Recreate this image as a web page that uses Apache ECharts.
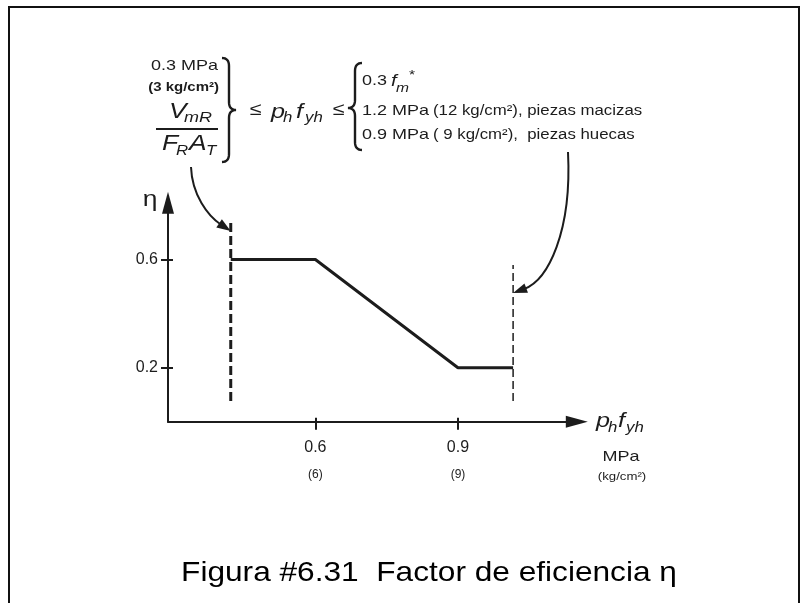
<!DOCTYPE html>
<html>
<head>
<meta charset="utf-8">
<script src="https://cdn.jsdelivr.net/npm/echarts@6/dist/echarts.min.js"></script>
<style>
  html, body { margin: 0; padding: 0; background: #fff; }
  #chart { width: 809px; height: 603px; }
</style>
</head>
<body>
<div id="chart"></div>
<script>
// factor de eficiencia eta vs p_h f_yh (MPa)
const xTicks = [0.6, 0.9];
const xTickKg = ['(6)', '(9)'];
const yTicks = [0.2, 0.6];
const etaX = [0.422, 0.6, 0.9, 1.016];
const etaY = [0.6, 0.6, 0.2, 0.2];
const lowLimitX = [0.422, 0.422];
const lowLimitY = [0.077, 0.742];
const highLimitX = [1.016, 1.016];
const highLimitY = [0.077, 0.58];

const X_MIN = 0.29, X_MAX = 1.15;
const Y_MIN = 0, Y_MAX = 0.81;
const FONT = "'Liberation Sans', Arial, sans-serif";
const INK = '#1c1c1c';

const pairs = (xs, ys) => xs.map((x, i) => [x, ys[i]]);

const chart = echarts.init(document.getElementById('chart'), null, { renderer: 'canvas' });

function tickLabel(v) {
  const i = xTicks.findIndex((t) => Math.abs(t - v) < 1e-6);
  return '{a|' + v + '}\n{b|' + (i >= 0 ? xTickKg[i] : '') + '}';
}

chart.setOption({
  animation: false,
  backgroundColor: '#fff',
  grid: {
    left: 168,
    top: 202.7,
    right: 232.2,
    bottom: 181.2,
    containLabel: false,
    outerBoundsMode: 'none',
  },
  xAxis: [
    {
      type: 'value',
      min: X_MIN,
      max: X_MAX,
      position: 'bottom',
      axisLine: {
        show: true,
        onZero: false,
        symbol: ['none', 'triangle'],
        symbolSize: [12, 22],
        lineStyle: { color: INK, width: 2 },
      },
      axisTick: { show: true, customValues: xTicks, length: 8, lineStyle: { color: INK, width: 2 } },
      axisLabel: {
        customValues: xTicks,
        margin: 16,
        formatter: tickLabel,
        rich: {
          a: { fontFamily: FONT, fontSize: 16, color: INK, lineHeight: 20 },
          b: { fontFamily: FONT, fontSize: 12, color: INK, lineHeight: 34 },
        },
      },
      splitLine: { show: false },
    },
    {
      // ticks poking above the axis line
      type: 'value',
      min: X_MIN,
      max: X_MAX,
      position: 'bottom',
      axisLine: { show: false, onZero: false },
      axisTick: { show: true, inside: true, customValues: xTicks, length: 4, lineStyle: { color: INK, width: 2 } },
      axisLabel: { show: false },
      splitLine: { show: false },
    },
  ],
  yAxis: [
    {
      type: 'value',
      min: Y_MIN,
      max: Y_MAX,
      position: 'left',
      axisLine: {
        show: true,
        onZero: false,
        symbol: ['none', 'triangle'],
        symbolSize: [12, 22],
        lineStyle: { color: INK, width: 2 },
      },
      axisTick: { show: true, customValues: yTicks, length: 7, lineStyle: { color: INK, width: 2 } },
      axisLabel: {
        customValues: yTicks,
        margin: 10,
        fontFamily: FONT,
        fontSize: 16,
        color: INK,
      },
      splitLine: { show: false },
    },
    {
      type: 'value',
      min: Y_MIN,
      max: Y_MAX,
      position: 'left',
      axisLine: { show: false, onZero: false },
      axisTick: { show: true, inside: true, customValues: yTicks, length: 5, lineStyle: { color: INK, width: 2 } },
      axisLabel: { show: false },
      splitLine: { show: false },
    },
  ],
  series: [
    {
      name: 'eta',
      type: 'line',
      data: pairs(etaX, etaY),
      symbol: 'none',
      lineStyle: { color: INK, width: 3 },
      silent: true,
    },
    {
      name: 'limite inferior',
      type: 'line',
      data: pairs(lowLimitX, lowLimitY),
      symbol: 'none',
      lineStyle: { color: INK, width: 3, type: [9, 4] },
      silent: true,
    },
    {
      name: 'limite superior',
      type: 'line',
      data: pairs(highLimitX, highLimitY),
      symbol: 'none',
      lineStyle: { color: INK, width: 1.5, type: [8, 4] },
      silent: true,
    },
  ],
});

/** text piece, stretched horizontally like the scanned figure */
function t(text, x, y, size, opt) {
  opt = opt || {};
  return {
    type: 'text',
    x: x,
    y: y,
    scaleX: opt.scaleX || 1.2,
    silent: true,
    style: {
      text: text,
      x: 0,
      y: 0,
      fontFamily: FONT,
      fontSize: size,
      fontStyle: opt.italic ? 'italic' : 'normal',
      fontWeight: opt.bold ? 'bold' : 'normal',
      fill: opt.color || INK,
      align: opt.align || 'left',
      verticalAlign: 'middle',
    },
  };
}

/** curly brace as a polyline; dir = 1 opens left "}" , -1 opens right "{" */
function brace(x, yTop, yMid, yBot, dir) {
  const arm = 7 * dir; // spine offset from tips
  const cx = x + arm;
  const pts = [];
  const quad = (p0, p1, p2) => {
    for (let i = 0; i <= 8; i++) {
      const s = i / 8;
      pts.push([
        (1 - s) * (1 - s) * p0[0] + 2 * (1 - s) * s * p1[0] + s * s * p2[0],
        (1 - s) * (1 - s) * p0[1] + 2 * (1 - s) * s * p1[1] + s * s * p2[1],
      ]);
    }
  };
  quad([x, yTop], [cx, yTop], [cx, yTop + 8]);
  quad([cx, yMid - 8], [cx, yMid], [cx + arm, yMid]);
  quad([cx + arm, yMid], [cx, yMid], [cx, yMid + 8]);
  quad([cx, yBot - 8], [cx, yBot], [x, yBot]);
  return {
    type: 'polyline',
    silent: true,
    shape: { points: pts },
    style: { fill: null, stroke: INK, lineWidth: 2.4 },
  };
}

function curvedArrow(start, cp1, cp2, tip) {
  const dx = tip[0] - cp2[0], dy = tip[1] - cp2[1];
  const d = Math.sqrt(dx * dx + dy * dy);
  const ux = dx / d, uy = dy / d;
  const len = 14, half = 5;
  const base = [tip[0] - ux * len, tip[1] - uy * len];
  return [
    {
      type: 'bezierCurve',
      silent: true,
      shape: {
        x1: start[0], y1: start[1],
        cpx1: cp1[0], cpy1: cp1[1],
        cpx2: cp2[0], cpy2: cp2[1],
        x2: base[0] + ux * 2, y2: base[1] + uy * 2,
      },
      style: { stroke: INK, lineWidth: 2, fill: null },
    },
    {
      type: 'polygon',
      silent: true,
      shape: {
        points: [
          tip,
          [base[0] - uy * half, base[1] + ux * half],
          [base[0] + uy * half, base[1] - ux * half],
        ],
      },
      style: { fill: INK },
    },
  ];
}

const tipL = chart.convertToPixel({ gridIndex: 0 }, [lowLimitX[0], 0.705]);
const tipR = chart.convertToPixel({ gridIndex: 0 }, [highLimitX[0], 0.476]);

const graphics = [
  {
    type: 'rect',
    silent: true,
    shape: { x: 9, y: 7, width: 790, height: 640 },
    style: { fill: null, stroke: '#111', lineWidth: 2 },
  },
  // left group
  t('0.3 MPa', 218, 66, 15, { align: 'right' }),
  t('(3 kg/cm²)', 219, 88, 12.5, { align: 'right', bold: true }),
  t('V', 169, 112, 22, { italic: true }),
  t('mR', 184, 118, 15, { italic: true }),
  {
    type: 'line',
    silent: true,
    shape: { x1: 156, y1: 129, x2: 218, y2: 129 },
    style: { stroke: INK, lineWidth: 1.8 },
  },
  t('F', 162, 144, 22, { italic: true }),
  t('R', 176, 151, 14, { italic: true }),
  t('A', 189, 144, 22, { italic: true }),
  t('T', 206, 151, 14, { italic: true }),
  brace(222, 58, 110, 162, 1),
  t('≤', 250, 110, 18),
  t('p', 271, 112, 21, { italic: true }),
  t('h', 283, 118, 14, { italic: true }),
  t('f', 296, 112, 21, { italic: true }),
  t('yh', 305, 118, 14, { italic: true }),
  t('≤', 333, 110, 18),
  brace(362, 63, 108, 150, -1),
  // right group
  t('0.3', 362, 81, 15),
  t('f', 391, 81, 17, { italic: true }),
  t('m', 396, 88, 13, { italic: true }),
  t('*', 409, 75, 13),
  t('1.2 MPa', 362, 111, 15),
  t('(12 kg/cm²), piezas macizas', 433, 111, 14),
  t('0.9 MPa', 362, 135, 15),
  t('( 9 kg/cm²),  piezas huecas', 433, 135, 14),
  // axis names
  t('η', 150, 200, 22, { align: 'center' }),
  t('p', 596, 421, 21, { italic: true }),
  t('h', 608, 428, 14, { italic: true }),
  t('f', 618, 421, 21, { italic: true }),
  t('yh', 626, 428, 14, { italic: true }),
  t('MPa', 621, 457, 15, { align: 'center' }),
  t('(kg/cm²)', 622, 477, 11, { align: 'center' }),
  // caption
  t('Figura #6.31  Factor de eficiencia η', 429, 573, 28.5, { align: 'center', scaleX: 1.11, color: '#000' }),
]
  .concat(curvedArrow([191, 167], [192, 195], [208, 216], tipL))
  .concat(curvedArrow([568, 152], [572, 232], [548, 280], tipR));

chart.setOption({ graphic: graphics });
</script>
</body>
</html>
